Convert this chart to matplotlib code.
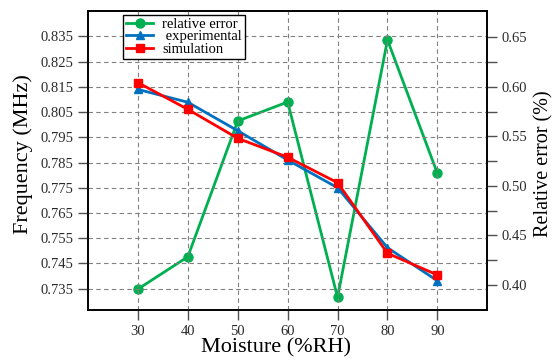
import matplotlib
matplotlib.use("Agg")
import matplotlib.pyplot as plt
import numpy as np

moisture = [30, 40, 50, 60, 70, 80, 90]
experimental = [0.8140, 0.8089, 0.7976, 0.7860, 0.7750, 0.7512, 0.7381]
simulation = [0.8167, 0.8061, 0.7946, 0.7871, 0.7770, 0.7490, 0.7404]
relative_error = [0.3959, 0.4285, 0.5655, 0.5847, 0.3876, 0.6473, 0.5127]

left_ticks = [0.735, 0.745, 0.755, 0.765, 0.775, 0.785, 0.795, 0.805, 0.815, 0.825, 0.835]
right_ticks = [0.40, 0.45, 0.50, 0.55, 0.60, 0.65]
right_minor = [0.425, 0.475, 0.525, 0.575, 0.625]
x_ticks = [30, 40, 50, 60, 70, 80, 90]

plt.rcParams['font.family'] = ['Liberation Serif', 'DejaVu Serif']
plt.rcParams['mathtext.fontset'] = 'stix'

fig = plt.figure(figsize=(5.55, 3.6), dpi=100)
ax1 = fig.add_axes([88/555, 1-310/360, (487.3-88)/555, (310-11)/360])
ax2 = ax1.twinx()

green = '#00B050'
blue = '#0070C0'
red = '#FF0000'

l1, = ax2.plot(moisture, relative_error, color=green, lw=2, marker='o', ms=6.5,
               label='relative error')
l2, = ax1.plot(moisture, experimental, color=blue, lw=2, marker='^', ms=6,
               label=' experimental')
l3, = ax1.plot(moisture, simulation, color=red, lw=2, marker='s', ms=5.5,
               label='simulation')

ax1.set_zorder(ax2.get_zorder() + 1)
ax1.patch.set_visible(False)

ax1.set_xlim(20, 100)
ax1.set_ylim(0.7265, 0.8451)
ax2.set_ylim(0.3748, 0.6765)

ax1.set_xticks(x_ticks)
ax1.set_yticks(left_ticks)
ax1.set_yticklabels([f'{v:.3f}' for v in left_ticks])
ax2.set_yticks(right_ticks)
ax2.set_yticklabels([f'{v:.2f}' for v in right_ticks])
ax2.set_yticks(right_minor, minor=True)

grid_kw = dict(color='#808080', linestyle=(0, (4, 3)), linewidth=0.8)
ax1.grid(True, which='major', axis='both', **grid_kw)

for ax in (ax1, ax2):
    ax.tick_params(which='both', direction='out', length=7, width=1, color='#505050',
                   labelsize=10.5, labelcolor='#2a2a2a')
    for s in ax.spines.values():
        s.set_linewidth(1.2)
        s.set_color('black')

ax1.set_xlabel('Moisture (%RH)', fontsize=16)
ax1.xaxis.set_label_coords(0.472, -0.095)
ax1.set_ylabel('Frequency (MHz)', fontsize=16)
ax1.yaxis.set_label_coords(-0.138, 0.52)
ax2.set_ylabel('Relative error (%)', fontsize=14.5)
ax2.yaxis.set_label_coords(1.117, 0.49)

leg = ax1.legend(handles=[l1, l2, l3], loc='upper left', bbox_to_anchor=(0.087, 0.987),
                 fontsize=10.5, frameon=True, fancybox=False, edgecolor='black',
                 framealpha=1, borderpad=0.2, labelspacing=-0.05, handlelength=1.9,
                 handletextpad=0.6, borderaxespad=0.0)
leg.get_frame().set_linewidth(1.0)

fig.savefig('out.png', dpi=100)
